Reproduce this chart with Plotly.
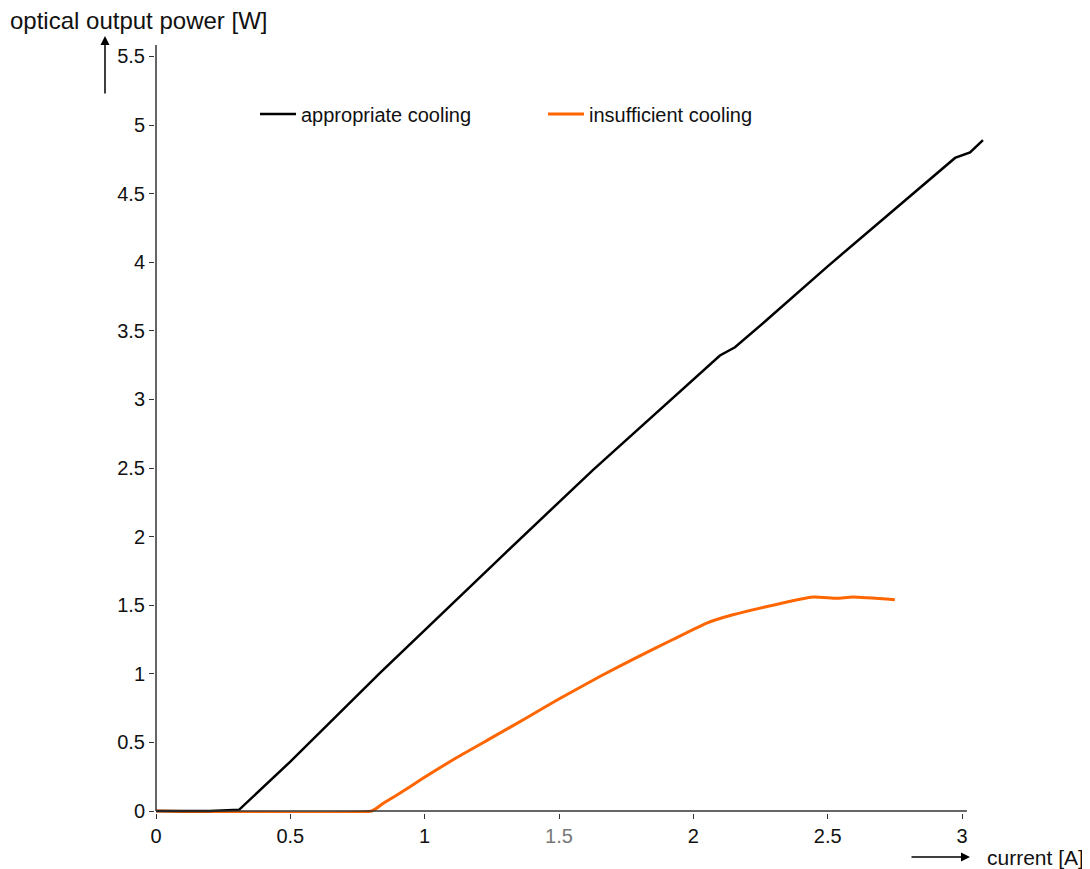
import plotly.graph_objects as go

# ---- data ----
current_appropriate = [0, 0.2, 0.31, 0.5, 0.834, 1.0, 1.3, 1.626, 1.95, 2.099, 2.155, 2.274, 2.5, 2.769, 2.974, 3.03, 3.078]
power_appropriate = [0, 0, 0.01, 0.36, 1.006, 1.32, 1.88, 2.485, 3.06, 3.32, 3.38, 3.58, 3.97, 4.42, 4.76, 4.80, 4.89]

current_insufficient = [0, 0.803, 0.846, 0.9, 0.995, 1.12, 1.255, 1.38, 1.503, 1.652, 1.79, 1.924, 2.05, 2.147, 2.296, 2.445, 2.534, 2.594, 2.75]
power_insufficient = [0, 0, 0.056, 0.12, 0.24, 0.39, 0.54, 0.68, 0.82, 0.98, 1.12, 1.25, 1.37, 1.43, 1.50, 1.56, 1.55, 1.56, 1.54]

x_tickvals = [0, 0.5, 1, 1.5, 2, 2.5, 3]
x_ticklabels = ["0", "0.5", "1", "<span style='color:#777777'>1.5</span>", "2", "2.5", "3"]
y_tickvals = [0, 0.5, 1, 1.5, 2, 2.5, 3, 3.5, 4, 4.5, 5, 5.5]
y_ticklabels = ["0", "0.5", "1", "1.5", "2", "2.5", "3", "3.5", "4", "4.5", "5", "5.5"]

series_names = ["appropriate cooling", "insufficient cooling"]
x_title = "current [A]"
y_title = "optical output power [W]"

# ---- layout geometry (targets given in screenshot pixels; page body has 8px margin) ----
OFF = 8
W, H = 1090 - OFF, 869 - OFF
# plot area in screenshot pixels
P_LEFT, P_RIGHT, P_TOP, P_BOTTOM = 155, 988, 43, 813
L, R, T, B = P_LEFT - OFF, W - (P_RIGHT - OFF), P_TOP - OFF, H - (P_BOTTOM - OFF)
PW, PH = W - L - R, H - T - B
# pixel anchors: x=0 -> 156, x=3 -> 962 ; y=0 -> 811, y=5 -> 125
sx = (962 - 156) / 3.0
sy = (811 - 125) / 5.0
xmin = (P_LEFT - 156) / sx
xmax = (P_RIGHT - 156) / sx
ymin = -(P_BOTTOM - 811) / sy
ymax = (811 - P_TOP) / sy


def px(xs):
    return (xs - P_LEFT) / PW


def py(ys):
    return (P_BOTTOM - ys) / PH


FONT = "Liberation Sans, Arial, Helvetica, sans-serif"

fig = go.Figure()
fig.add_trace(go.Scatter(
    x=current_insufficient, y=power_insufficient, mode="lines",
    name=series_names[1], line=dict(color="#ff6600", width=3, shape="spline", smoothing=0.5),
    legendrank=2))
fig.add_trace(go.Scatter(
    x=current_appropriate, y=power_appropriate, mode="lines",
    name=series_names[0], line=dict(color="#000000", width=2.5), legendrank=1))

axis_color = "#333333"
fig.update_layout(
    width=W, height=H,
    margin=dict(l=L, r=R, t=T, b=B, autoexpand=False),
    paper_bgcolor="white", plot_bgcolor="white",
    font=dict(family=FONT, size=20, color="#111111"),
    xaxis=dict(range=[xmin, xmax], tickvals=x_tickvals, ticktext=x_ticklabels,
               showgrid=False, zeroline=False, showline=False,
               ticks="outside", ticklen=5, tickwidth=1.2, tickcolor=axis_color,
               tickfont=dict(size=20, color="#111111")),
    yaxis=dict(range=[ymin, ymax], tickvals=y_tickvals, ticktext=y_ticklabels,
               showgrid=False, zeroline=False, showline=False,
               ticks="outside", ticklen=5, tickwidth=1.2, tickcolor=axis_color,
               tickfont=dict(size=20, color="#111111")),
    showlegend=True,
    legend=dict(orientation="h", x=px(255), y=py(114), xanchor="left", yanchor="middle",
                bgcolor="rgba(0,0,0,0)", font=dict(size=20, color="#111111"),
                itemwidth=36, entrywidth=237, traceorder="normal"),
)

# axis lines (x axis stops at ~3.02, y axis at ~5.58)
fig.add_shape(type="line", xref="x", yref="y", x0=0, x1=3.018, y0=0, y1=0,
              line=dict(color=axis_color, width=1.5))
fig.add_shape(type="line", xref="x", yref="y", x0=0, x1=0, y0=0, y1=5.583,
              line=dict(color=axis_color, width=1.5))

# axis titles
fig.add_annotation(x=px(8), y=py(20), xref="paper", yref="paper", text=y_title,
                   showarrow=False, xanchor="left", yanchor="middle",
                   font=dict(size=24, color="#111111"))
fig.add_annotation(x=px(985), y=py(857), xref="paper", yref="paper", text=x_title,
                   showarrow=False, xanchor="left", yanchor="middle",
                   font=dict(size=21, color="#111111"))

# arrows
fig.add_annotation(x=px(105), y=py(36), xref="paper", yref="paper", text="",
                   showarrow=True, ax=0, ay=59, arrowhead=2, arrowsize=1.2,
                   arrowwidth=1.5, arrowcolor="#000000", standoff=0)
fig.add_annotation(x=px(970), y=py(857), xref="paper", yref="paper", text="",
                   showarrow=True, ax=-60, ay=0, arrowhead=2, arrowsize=1.2,
                   arrowwidth=1.5, arrowcolor="#000000", standoff=0)

fig.write_html("out.html")
